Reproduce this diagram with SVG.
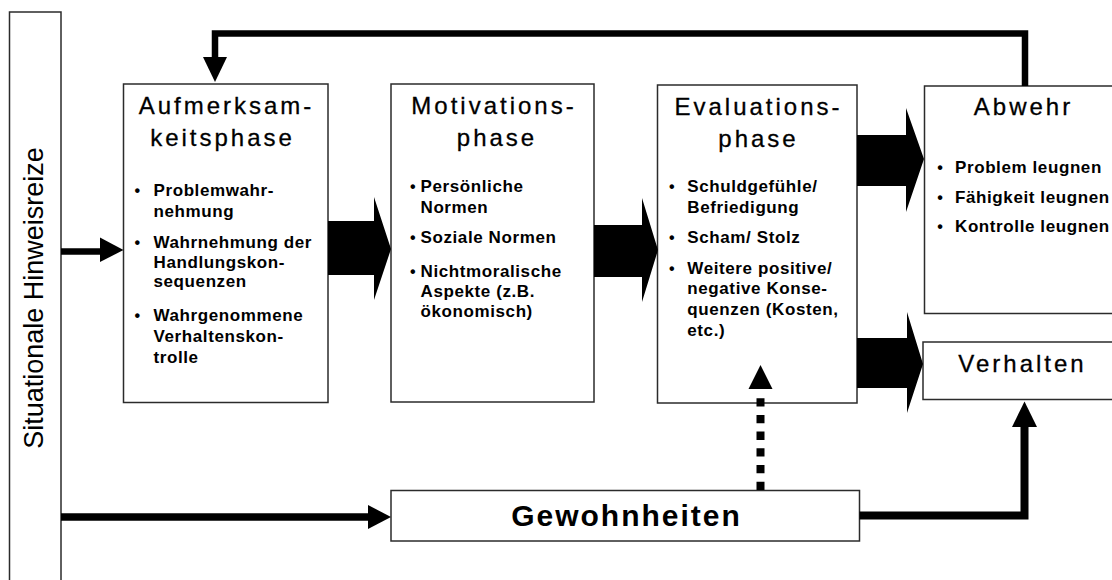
<svg xmlns="http://www.w3.org/2000/svg" width="1112" height="580" viewBox="0 0 1112 580">
  <style>
    .box { fill: #fff; stroke: #2b2b2b; stroke-width: 1.5; }
    .title { font-family: "Liberation Sans", Arial, sans-serif; font-size: 24px; letter-spacing: 3px; text-anchor: middle; fill: #000; stroke: #000; stroke-width: 0.3; }
    .item { font-family: "Liberation Sans", Arial, sans-serif; font-size: 17px; font-weight: bold; letter-spacing: 0.6px; fill: #000; }
    .bul { font-family: "Liberation Sans", Arial, sans-serif; font-size: 16px; font-weight: bold; text-anchor: middle; fill: #000; }
    .side { font-family: "Liberation Sans", Arial, sans-serif; font-size: 27px; text-anchor: middle; fill: #000; }
    .habit { font-family: "Liberation Sans", Arial, sans-serif; font-size: 30px; font-weight: bold; letter-spacing: 2px; text-anchor: middle; fill: #000; }
    .line { fill: none; stroke: #000; }
    .head { fill: #000; }
  </style>
  <rect width="1112" height="580" fill="#fff"/>

  <!-- side bar: situational cues -->
  <g id="hinweisreize">
    <rect class="box" x="9.5" y="12" width="51.5" height="590"/>
    <text class="side" transform="translate(42.5,298) rotate(-90)">Situationale Hinweisreize</text>
  </g>

  <g id="aufmerksamkeit">
    <rect class="box" x="123.5" y="84" width="204.5" height="318.5"/>
    <text class="title" x="226.5" y="114">Aufmerksam-</text>
    <text class="title" x="222.5" y="145.5">keitsphase</text>
    <text class="bul" x="137.3" y="195.7">•</text>
    <text class="item" x="153.5" y="195.7">Problemwahr-</text>
    <text class="item" x="153.5" y="216.5">nehmung</text>
    <text class="bul" x="137.3" y="247.7">•</text>
    <text class="item" x="153.5" y="247.7">Wahrnehmung der</text>
    <text class="item" x="153.5" y="267.5">Handlungskon-</text>
    <text class="item" x="153.5" y="287">sequenzen</text>
    <text class="bul" x="137.3" y="320.5">•</text>
    <text class="item" x="153.5" y="320.5">Wahrgenommene</text>
    <text class="item" x="153.5" y="341.5">Verhaltenskon-</text>
    <text class="item" x="153.5" y="362.5">trolle</text>
  </g>

  <g id="motivation">
    <rect class="box" x="391" y="84" width="203" height="318"/>
    <text class="title" x="494" y="114">Motivations-</text>
    <text class="title" x="497" y="146">phase</text>
    <text class="bul" x="412.7" y="192">•</text>
    <text class="item" x="420.5" y="192">Persönliche</text>
    <text class="item" x="420.5" y="213">Normen</text>
    <text class="bul" x="412.7" y="243">•</text>
    <text class="item" x="420.5" y="243">Soziale Normen</text>
    <text class="bul" x="412.7" y="276.5">•</text>
    <text class="item" x="420.5" y="276.5">Nichtmoralische</text>
    <text class="item" x="420.5" y="296.5">Aspekte (z.B.</text>
    <text class="item" x="420.5" y="316.5">ökonomisch)</text>
  </g>

  <g id="evaluation">
    <rect class="box" x="657.5" y="85" width="199.5" height="318"/>
    <text class="title" x="758.5" y="115">Evaluations-</text>
    <text class="title" x="758.5" y="147">phase</text>
    <text class="bul" x="671.7" y="191.7">•</text>
    <text class="item" x="687.3" y="191.7">Schuldgefühle/</text>
    <text class="item" x="687.3" y="213">Befriedigung</text>
    <text class="bul" x="671.7" y="242.7">•</text>
    <text class="item" x="687.3" y="242.7">Scham/ Stolz</text>
    <text class="bul" x="671.7" y="273.7">•</text>
    <text class="item" x="687.3" y="273.7">Weitere positive/</text>
    <text class="item" x="687.3" y="294">negative Konse-</text>
    <text class="item" x="687.3" y="314.7">quenzen (Kosten,</text>
    <text class="item" x="687.3" y="335.8">etc.)</text>
  </g>

  <g id="abwehr">
    <rect class="box" x="924.5" y="86" width="200" height="227.5"/>
    <text class="title" x="1023.5" y="115">Abwehr</text>
    <text class="bul" x="940" y="172.5">•</text>
    <text class="item" x="955" y="172.5">Problem leugnen</text>
    <text class="bul" x="940" y="202.5">•</text>
    <text class="item" x="955" y="202.5">Fähigkeit leugnen</text>
    <text class="bul" x="940" y="231.5">•</text>
    <text class="item" x="955" y="231.5">Kontrolle leugnen</text>
  </g>

  <g id="verhalten">
    <rect class="box" x="923" y="342" width="200" height="57.5"/>
    <text class="title" x="1022.5" y="371.7">Verhalten</text>
  </g>

  <g id="gewohnheiten">
    <rect class="box" x="391" y="490.5" width="468.5" height="50.5"/>
    <text class="habit" x="626.5" y="525.5">Gewohnheiten</text>
  </g>

  <g id="connectors">
    <!-- feedback from Abwehr back to the attention phase -->
    <path class="line" stroke-width="6.5" d="M1025,86 V33.5 H215 V60"/>
    <polygon class="head" points="203,57 227,57 215,82"/>

    <!-- cues into attention phase -->
    <path class="line" stroke-width="6.5" d="M61,251.5 H102"/>
    <polygon class="head" points="100,237.5 100,262 123.5,250"/>

    <!-- cues into habits -->
    <path class="line" stroke-width="7.5" d="M61,517 H370"/>
    <polygon class="head" points="368,505 368,529 391,517"/>

    <!-- habits to behaviour -->
    <path class="line" stroke-width="8" d="M859.5,515.5 H1024.5 V425"/>
    <polygon class="head" points="1012,427 1037,427 1024.5,401.5"/>

    <!-- habits influence evaluation (dotted) -->
    <path class="line" stroke-width="8" stroke-dasharray="8.3 8.4" d="M760.5,490 V398"/>
    <polygon class="head" points="748.5,389 772.5,389 760.5,365"/>

    <!-- block arrows between phases -->
    <polygon class="head" points="328,221 374,221 374,197 391,249 374,300 374,275 328,275"/>
    <polygon class="head" points="594,225 642,225 642,198 658,250 642,302 642,277 594,277"/>
    <polygon class="head" points="857,135 906,135 906,108 924,159 906,212 906,186 857,186"/>
    <polygon class="head" points="857,338 907,338 907,312 923,364 907,413 907,388 857,388"/>
  </g>
</svg>
